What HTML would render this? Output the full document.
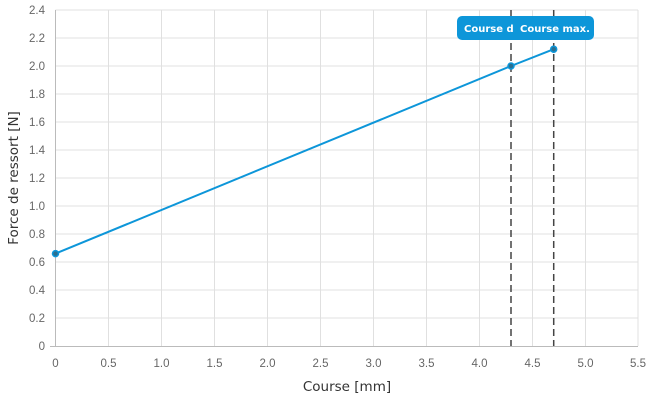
<!DOCTYPE html><html><head><style>body{margin:0;background:#fff}</style></head><body>
<svg width="650" height="400" xmlns="http://www.w3.org/2000/svg" font-family="Liberation Sans, DejaVu Sans, sans-serif">
<g stroke="#e0e0e0" stroke-width="1">
<line x1="55.5" y1="10" x2="638" y2="10"/><line x1="55.5" y1="38" x2="638" y2="38"/><line x1="55.5" y1="66" x2="638" y2="66"/><line x1="55.5" y1="94" x2="638" y2="94"/><line x1="55.5" y1="122" x2="638" y2="122"/><line x1="55.5" y1="150" x2="638" y2="150"/><line x1="55.5" y1="178" x2="638" y2="178"/><line x1="55.5" y1="206" x2="638" y2="206"/><line x1="55.5" y1="234" x2="638" y2="234"/><line x1="55.5" y1="262" x2="638" y2="262"/><line x1="55.5" y1="290" x2="638" y2="290"/><line x1="55.5" y1="318" x2="638" y2="318"/>
<line x1="108.5" y1="10" x2="108.5" y2="346"/><line x1="161.5" y1="10" x2="161.5" y2="346"/><line x1="214.5" y1="10" x2="214.5" y2="346"/><line x1="267.5" y1="10" x2="267.5" y2="346"/><line x1="320.5" y1="10" x2="320.5" y2="346"/><line x1="373.5" y1="10" x2="373.5" y2="346"/><line x1="426.5" y1="10" x2="426.5" y2="346"/><line x1="479.5" y1="10" x2="479.5" y2="346"/><line x1="532.5" y1="10" x2="532.5" y2="346"/><line x1="585.5" y1="10" x2="585.5" y2="346"/><line x1="638" y1="10" x2="638" y2="346"/>
</g>
<line x1="55.5" y1="10" x2="55.5" y2="346" stroke="#bbb"/><line x1="50" y1="346.5" x2="638" y2="346.5" stroke="#bbb"/>
<g font-size="11.5" fill="#666" text-anchor="end">
<text x="45" y="14">2.4</text><text x="45" y="42">2.2</text><text x="45" y="70">2.0</text><text x="45" y="98">1.8</text><text x="45" y="126">1.6</text><text x="45" y="154">1.4</text><text x="45" y="182">1.2</text><text x="45" y="210">1.0</text><text x="45" y="238">0.8</text><text x="45" y="266">0.6</text><text x="45" y="294">0.4</text><text x="45" y="322">0.2</text><text x="45" y="350">0</text>
</g>
<g font-size="11.5" fill="#666" text-anchor="middle">
<text x="55.5" y="367">0</text><text x="108.5" y="367">0.5</text><text x="161.5" y="367">1.0</text><text x="214.5" y="367">1.5</text><text x="267.5" y="367">2.0</text><text x="320.5" y="367">2.5</text><text x="373.5" y="367">3.0</text><text x="426.5" y="367">3.5</text><text x="479.5" y="367">4.0</text><text x="532.5" y="367">4.5</text><text x="585.5" y="367">5.0</text><text x="638" y="367">5.5</text>
</g>
<text x="347" y="391" font-size="13.5" fill="#333" text-anchor="middle" font-family="DejaVu Sans, sans-serif">Course [mm]</text>
<text transform="translate(18,178) rotate(-90)" font-size="13.5" fill="#333" text-anchor="middle" font-family="DejaVu Sans, sans-serif">Force de ressort [N]</text>
<g stroke="#444" stroke-width="1.5" stroke-dasharray="7,4"><line x1="511" y1="10" x2="511" y2="346"/><line x1="553.7" y1="10" x2="553.7" y2="346"/></g>
<polyline points="55.5,253.6 511,66 553.7,49.2" fill="none" stroke="#0d96d9" stroke-width="2"/>
<g fill="#2a6f90" stroke="#0d96d9" stroke-width="1.5"><circle cx="55.5" cy="253.6" r="3"/><circle cx="511" cy="66" r="3"/><circle cx="553.7" cy="49.2" r="3"/></g>
<rect x="457" y="16" width="137" height="24" rx="5" fill="#0d96d9"/>
<g font-family="DejaVu Sans, sans-serif" font-size="10" font-weight="bold" fill="#fff">
<text x="464" y="32">Course d</text>
<text x="520" y="32">Course max.</text>
</g>
</svg>
</body></html>
